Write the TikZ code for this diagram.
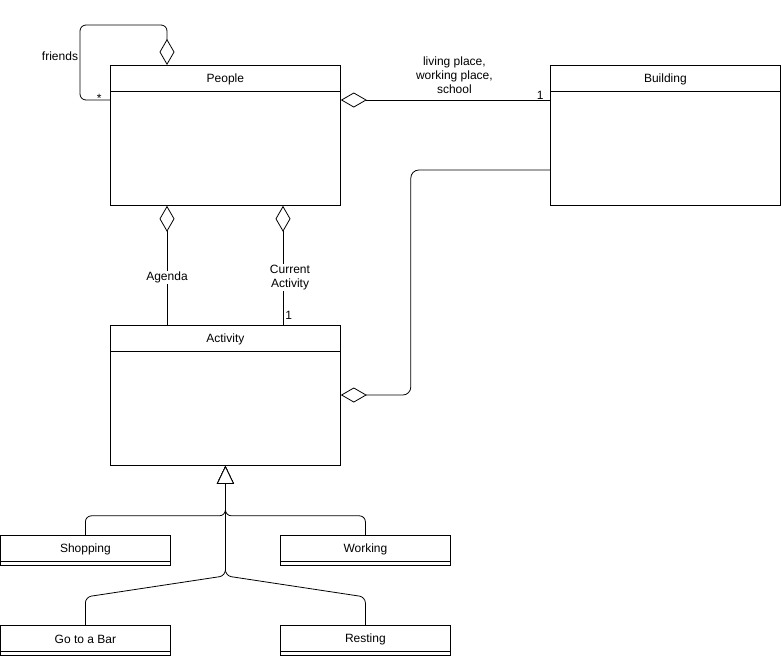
\documentclass[tikz,border=0pt]{standalone}
\usepackage{fontspec}
\setmainfont{Liberation Sans}
\usetikzlibrary{arrows.meta}

\tikzset{
  cls/.style={draw, fill=white, anchor=north west, inner sep=0pt},
  clstitle/.style={anchor=north, minimum height=26pt, inner sep=0pt, yshift=-1pt},
  agg/.style={-{Diamond[fill=white, length=26pt, width=15pt]}},
  gen/.style={-{Triangle[fill=white, length=18pt, width=17pt]}},
  lbl/.style={fill=white, inner sep=1pt, align=center},
}

\begin{document}
\begin{tikzpicture}[x=1pt, y=-1pt, thick, font=\fontsize{12}{14}\selectfont]
  \useasboundingbox (0,0) rectangle (781,657);

  % classes
  \node[cls, minimum width=230pt, minimum height=140pt] (people) at (110,65) {};
  \node[clstitle] at (people.north) {People};
  \draw ([yshift=-26pt]people.north west) -- ([yshift=-26pt]people.north east);

  \node[cls, minimum width=230pt, minimum height=140pt] (building) at (550,65) {};
  \node[clstitle] at (building.north) {Building};
  \draw ([yshift=-26pt]building.north west) -- ([yshift=-26pt]building.north east);

  \node[cls, minimum width=230pt, minimum height=140pt] (activity) at (110,325) {};
  \node[clstitle] at (activity.north) {Activity};
  \draw ([yshift=-26pt]activity.north west) -- ([yshift=-26pt]activity.north east);

  \foreach \n/\x/\y/\t in {shopping/0/535/Shopping, working/280/535/Working,
                           bar/0/625/Go to a Bar, resting/280/625/Resting} {
    \node[cls, minimum width=170pt, minimum height=30pt] (\n) at (\x,\y) {};
    \node[clstitle] at (\n.north) {\t};
    \draw ([yshift=4pt]\n.south west) -- ([yshift=4pt]\n.south east);
  }

  % associations
  \draw[agg, rounded corners=6pt] ([yshift=-35pt]people.north west)
      node[anchor=base east, inner sep=0pt, xshift=-8pt, yshift=-2pt] {*}
    -| ([xshift=-30pt, yshift=40pt]people.north west)
    -| ([xshift=57pt]people.north west);
  \node (friends) at (60,56) {friends};

  \draw[agg] ([yshift=-35pt]building.north west)
      node[anchor=base east, inner sep=0pt, xshift=-6pt, yshift=1pt] {1}
    -- node[above=6pt, xshift=9pt, inner sep=0pt, align=center]
         {living place,\\working place,\\school}
       ([yshift=-35pt]people.north east);

  \draw[agg] ([xshift=57pt]activity.north west)
    -- node[lbl, pos=0.40] {Agenda} ([xshift=57pt]people.south west);
  \draw[agg] ([xshift=173pt]activity.north west)
      node[anchor=south west, inner sep=2pt, yshift=3pt] {1}
    -- node[lbl, pos=0.40, xshift=7pt] {Current\\Activity}
       ([xshift=173pt]people.south west);

  \draw[agg, rounded corners=8pt] ([yshift=-105pt]building.north west)
    -| ([xshift=70pt, yshift=-70pt]activity.north east)
    -- ([yshift=-70pt]activity.north east);

  % generalisation
  \draw[gen, rounded corners=6pt] (shopping.north) |- ([yshift=-50pt]activity.south) -- (activity.south);
  \draw[gen, rounded corners=6pt] (working.north) |- ([yshift=-50pt]activity.south) -- (activity.south);
  \draw[gen, rounded corners=6pt] (bar.north) -- ++(0,-28)
    -- ([yshift=-110pt]activity.south) -- (activity.south);
  \draw[gen, rounded corners=6pt] (resting.north) -- ++(0,-28)
    -- ([yshift=-110pt]activity.south) -- (activity.south);
\end{tikzpicture}
\end{document}
